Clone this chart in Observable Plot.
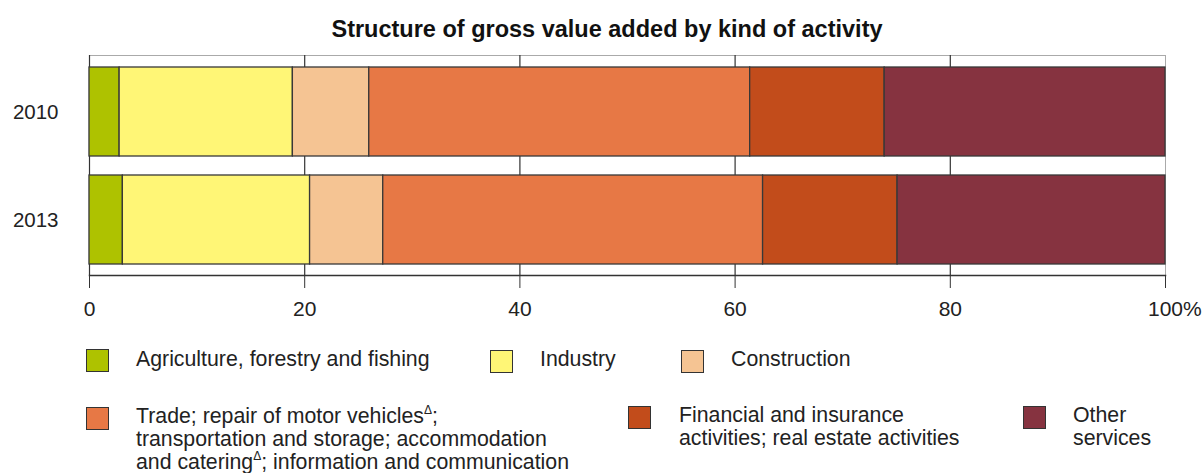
<!DOCTYPE html>
<html>
<head>
<meta charset="utf-8">
<script src="https://cdn.jsdelivr.net/npm/d3@7"></script>
<script src="https://cdn.jsdelivr.net/npm/@observablehq/plot@0.6"></script>
<style>
  html, body { margin: 0; padding: 0; background: #fff; }
  body { width: 1203px; height: 473px; position: relative; overflow: hidden;
         font-family: "Liberation Sans", Arial, sans-serif; color: #222; }
  #title { position: absolute; left: 0; width: 1214px; top: 16px; text-align: center; z-index: 2;
           font-weight: bold; font-size: 23.5px; line-height: 26px; color: #111; }
  #chart { position: absolute; left: 0; top: 40px; z-index: 1; }
  .sw { position: absolute; width: 21px; height: 21px; border: 1px solid #333; }
  .lt { position: absolute; font-size: 21.3px; line-height: 23px; color: #222; white-space: nowrap; }
  .lt sup { font-size: 12px; line-height: 0; vertical-align: 9px; }
</style>
</head>
<body>
<div id="title">Structure of gross value added by kind of activity</div>
<div id="chart"></div>
<div id="legend"></div>
<script>
const years = ["2010", "2013"];
const categories = [
  "Agriculture, forestry and fishing",
  "Industry",
  "Construction",
  "Trade; repair of motor vehicles; transportation and storage; accommodation and catering; information and communication",
  "Financial and insurance activities; real estate activities",
  "Other services"
];
const legendLabels = [
  "Agriculture, forestry and fishing",
  "Industry",
  "Construction",
  "Trade; repair of motor vehicles<sup>Δ</sup>;<br>transportation and storage; accommodation<br>and catering<sup>Δ</sup>; information and communication",
  "Financial and insurance<br>activities; real estate activities",
  "Other<br>services"
];
const values2010 = [2.8, 16.1, 7.1, 35.4, 12.5, 26.1];
const values2013 = [3.1, 17.4, 6.8, 35.3, 12.5, 24.9];
const colors = ["#aec200", "#fff676", "#f5c493", "#e77845", "#c24c1b", "#863340"];
const xTicks = [0, 20, 40, 60, 80, 100];
const gridTicks = [20, 40, 60, 80];

const data = [];
[values2010, values2013].forEach((vals, i) => {
  vals.forEach((v, j) => data.push({year: years[i], category: categories[j], value: v}));
});

const chart = Plot.plot({
  width: 1203,
  height: 290,
  marginTop: 15,
  marginBottom: 55,
  marginLeft: 89,
  marginRight: 38,
  style: {fontFamily: "Liberation Sans, Arial, sans-serif", fontSize: "21px", color: "#222", background: "transparent"},
  x: {domain: [0, 100]},
  y: {domain: years, padding: 0.18, paddingOuter: 0.1},
  color: {domain: categories, range: colors},
  marks: [
    Plot.frame({stroke: "#aaa"}),
    Plot.ruleX(gridTicks, {stroke: "#333", strokeWidth: 1.2}),
    Plot.ruleX([0], {stroke: "#333", strokeWidth: 1.2}),
    Plot.barX(data, {x: "value", y: "year", fill: "category", stroke: "#383838", strokeWidth: 1.3}),
    Plot.frame({anchor: "bottom", stroke: "#333", strokeWidth: 1.5}),
    Plot.axisX({ticks: xTicks, tickSize: 13, tickPadding: 13, tickFormat: d => String(d), stroke: "#333", fill: "#222", fontSize: 21, label: null}),
    Plot.text(["%"], {x: () => 100, frameAnchor: "bottom", dy: 26, dx: 17.5, textAnchor: "start", lineAnchor: "top", fill: "#222", fontSize: 21}),
    Plot.axisY({tickSize: 0, tickPadding: 31, fontSize: 20.5, fill: "#222", label: null})
  ]
});
document.getElementById("chart").appendChild(chart);

// Legend
const legendPos = [
  {sx: 86, sy: 349, tx: 136, ty: 348},
  {sx: 490, sy: 350, tx: 540, ty: 348},
  {sx: 681, sy: 350, tx: 731, ty: 348},
  {sx: 86, sy: 407, tx: 136, ty: 405},
  {sx: 628, sy: 406, tx: 679, ty: 404},
  {sx: 1023, sy: 406, tx: 1073, ty: 404}
];
const legend = document.getElementById("legend");
categories.forEach((c, i) => {
  const p = legendPos[i];
  const sw = document.createElement("div");
  sw.className = "sw";
  sw.style.left = p.sx + "px";
  sw.style.top = p.sy + "px";
  sw.style.background = colors[i];
  legend.appendChild(sw);
  const t = document.createElement("div");
  t.className = "lt";
  t.style.left = p.tx + "px";
  t.style.top = p.ty + "px";
  t.innerHTML = legendLabels[i];
  legend.appendChild(t);
});
</script>
</body>
</html>
